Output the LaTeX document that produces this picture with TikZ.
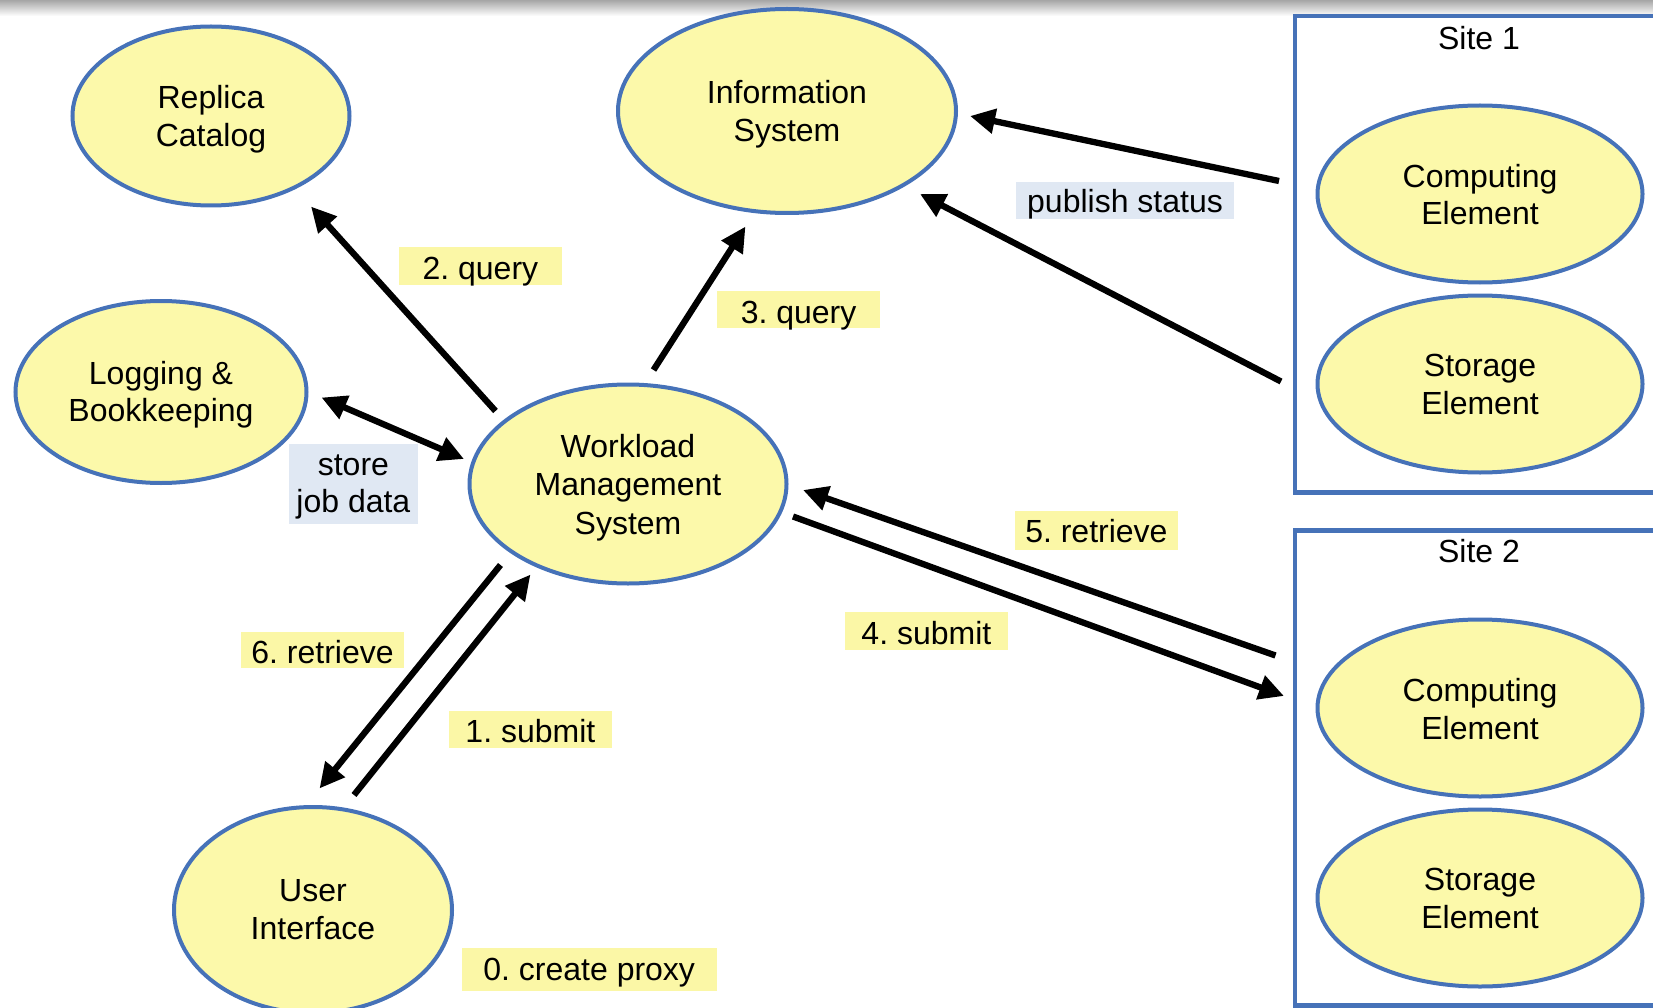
\documentclass[tikz,border=0pt]{standalone}
\usepackage{fontspec}
\setmainfont{Liberation Sans}
\usetikzlibrary{shapes.geometric,arrows.meta}
\frenchspacing
\definecolor{efill}{HTML}{FCF9AA}
\definecolor{eline}{HTML}{4672B8}
\definecolor{lyellow}{HTML}{FBF7A6}
\definecolor{lblue}{HTML}{E0E8F3}
\newcommand\mlines[1]{\begin{tabular}[t]{@{}c@{}}#1\end{tabular}}
\tikzset{
  ell/.style={ellipse, draw=eline, fill=efill, line width=4pt, inner sep=0pt},
  txt/.style={inner sep=0pt, anchor=base, font=\fontsize{32}{37.7}\selectfont\frenchspacing},
  lab/.style={txt, fill=lyellow},
  labb/.style={txt, fill=lblue},
  sitebox/.style={draw=eline, line width=4.5pt},
  arr/.style={line width=6.3pt, -{Triangle[length=25pt,width=24pt]}},
  darr/.style={line width=6.3pt, {Triangle[length=25pt,width=24pt]}-{Triangle[length=25pt,width=24pt]}}
}
\begin{document}
\begin{tikzpicture}[x=1pt,y=-1pt]
\useasboundingbox (0,0) rectangle (1653,1008);
\clip (0,0) rectangle (1653,1008);
\shade[top color=black!35, bottom color=white] (0,0) rectangle (1653,16);

% site boxes
\draw[sitebox] (1295,16) rectangle (1720,492.5);
\draw[sitebox] (1295,530.5) rectangle (1720,1005.5);
\node[txt] (s1) at (1479,49.3) {Site 1};
\node[txt] (s2) at (1479,562.7) {Site 2};

% ellipses
\node[ell, minimum width=277pt, minimum height=179pt] (rc) at (211,116) {};
\node[ell, minimum width=338pt, minimum height=204pt] (is) at (787,111) {};
\node[ell, minimum width=291pt, minimum height=182pt] (lb) at (161,392) {};
\node[ell, minimum width=317pt, minimum height=199pt] (wms) at (628,484) {};
\node[ell, minimum width=278pt, minimum height=206pt] (ui) at (313,910) {};
\node[ell, minimum width=325pt, minimum height=177pt] (ce1) at (1480,194) {};
\node[ell, minimum width=325pt, minimum height=177pt] (se1) at (1480,384) {};
\node[ell, minimum width=325pt, minimum height=177pt] (ce2) at (1480,708) {};
\node[ell, minimum width=325pt, minimum height=177pt] (se2) at (1480,898) {};

% ellipse texts
\node[txt] (rct) at (211,109) {\mlines{Replica\\Catalog}};
\node[txt] (ist) at (787,103.8) {\mlines{Information\\System}};
\node[txt] (lbt) at (161,384.2) {\mlines{Logging \&\\Bookkeeping}};
\node[txt, font=\fontsize{32}{38.5}\selectfont] (wmst) at (628,457) {\mlines{Workload\\Management\\System}};
\node[txt] (uit) at (313,901.7) {\mlines{User\\Interface}};
\node[txt] (ce1t) at (1480,187.3) {\mlines{Computing\\Element}};
\node[txt] (se1t) at (1480,376.7) {\mlines{Storage\\Element}};
\node[txt] (ce2t) at (1480,701.5) {\mlines{Computing\\Element}};
\node[txt] (se2t) at (1480,890.5) {\mlines{Storage\\Element}};

% labels
\node[lab, minimum width=162.7pt, text height=32pt, text depth=6pt] (l2) at (480.4,279) {2. query};
\node[lab, minimum width=163.3pt, text height=32pt, text depth=5pt] (l3) at (798.6,323) {3. query};
\node[labb, minimum width=218pt, text height=31pt, text depth=6.6pt] (lp) at (1125,212.7) {publish status};
\node[labb, minimum width=128.7pt, text height=30.7pt, text depth=49.3pt] (ls) at (353.4,475) {\mlines{store\\job data}};
\node[lab, minimum width=162.7pt, text height=31.3pt, text depth=7.4pt] (l5) at (1096.4,542.3) {5. retrieve};
\node[lab, minimum width=162.7pt, text height=32pt, text depth=5.7pt] (l4) at (926.4,644) {4. submit};
\node[lab, minimum width=163pt, text height=31.6pt, text depth=5pt] (l6) at (322.5,663.3) {6. retrieve};
\node[lab, minimum width=162.7pt, text height=31.7pt, text depth=5.6pt] (l1) at (530.4,742.7) {1. submit};
\node[lab, minimum width=255pt, text height=32.4pt, text depth=10pt] (l0) at (589.2,980.7) {0. create proxy};

% connector end points
\coordinate (q2a) at (495.5,411);
\coordinate (q2b) at (311,206.5);
\coordinate (q3a) at (653.5,370);
\coordinate (q3b) at (745.5,226.5);
\coordinate (sda) at (321.5,397.5);
\coordinate (sdb) at (464,459);
\coordinate (p1a) at (1279,181);
\coordinate (p1b) at (970,116);
\coordinate (p2a) at (1281,381.5);
\coordinate (p2b) at (920,194);
\coordinate (r5a) at (1275.5,655.5);
\coordinate (r5b) at (803,490);
\coordinate (s4a) at (793,516.5);
\coordinate (s4b) at (1284,696);
\coordinate (r6a) at (500.5,565);
\coordinate (r6b) at (319.5,788.5);
\coordinate (s1a) at (354,795);
\coordinate (s1b) at (530.5,574.5);

\draw[arr] (q2a) -- (q2b);
\draw[arr] (q3a) -- (q3b);
\draw[darr] (sda) -- (sdb);
\draw[arr] (p1a) -- (p1b);
\draw[arr] (p2a) -- (p2b);
\draw[arr] (r5a) -- (r5b);
\draw[arr] (s4a) -- (s4b);
\draw[arr] (r6a) -- (r6b);
\draw[arr] (s1a) -- (s1b);
\end{tikzpicture}
\end{document}
